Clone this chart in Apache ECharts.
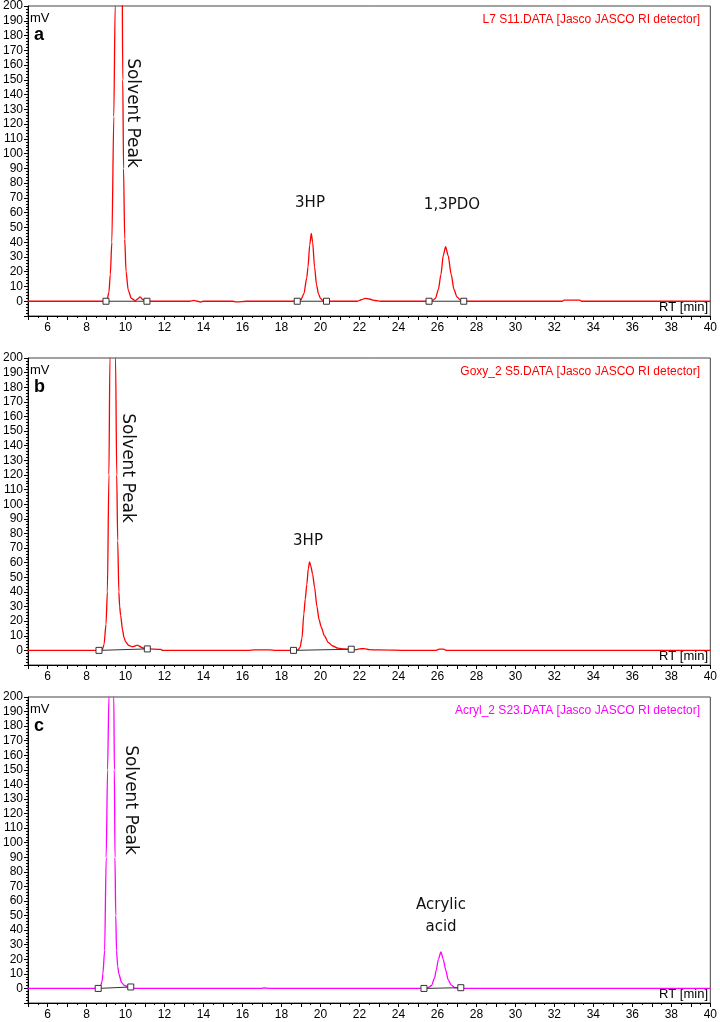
<!DOCTYPE html>
<html><head><meta charset="utf-8">
<script src="https://cdn.jsdelivr.net/npm/echarts@6/dist/echarts.min.js"></script>
<style>html,body{margin:0;padding:0;background:#fff}#c{width:720px;height:1022px}</style>
</head><body><div id="c"></div>
<script>
// ---- data (retention time [min], signal [mV]) ----
const panelLetters = ['a', 'b', 'c'];
const fileTitles = [
  'L7 S11.DATA [Jasco JASCO RI detector]',
  'Goxy_2 S5.DATA [Jasco JASCO RI detector]',
  'Acryl_2 S23.DATA [Jasco JASCO RI detector]'
];
const traceColors = ['#ff0000', '#ff0000', '#ff00ff'];

const traceA = [[5,0],[8.9,0],[9.05,0.5],[9.15,6],[9.22,18],[9.3,40],[9.4,125],[9.47,200],[9.55,290],[9.65,345],[9.75,330],[9.82,240],[9.86,150],[9.9,90],[9.96,42],[10.03,20],[10.14,7.5],[10.3,2],[10.5,0.3],[10.62,1.5],[10.75,3],[10.88,1.2],[11.0,0.2],[11.3,0],[13.3,0],[13.5,0.6],[13.7,0],[13.85,-0.5],[14.0,0],[15.5,0],[15.7,-0.4],[16.2,0],[18.8,0],[19.0,1],[19.15,5],[19.3,16],[19.36,23],[19.45,38],[19.53,46],[19.6,40],[19.7,23],[19.8,11],[19.9,5],[20.0,2],[20.12,0.5],[20.3,0],[21.9,0],[22.1,1],[22.3,2],[22.5,1.5],[22.8,0.5],[23.1,0],[25.6,0],[25.75,0.5],[25.9,2],[26.05,8],[26.18,18],[26.3,31],[26.42,37],[26.55,31],[26.71,18],[26.85,8],[27.0,3],[27.2,0.6],[27.4,0],[32.4,0],[32.5,0.7],[33.3,0.7],[33.4,0],[40,0]];

const traceB = [[5,0],[8.7,0],[8.81,0.5],[8.9,4],[9.0,18],[9.07,40],[9.15,120],[9.2,200],[9.3,300],[9.38,320],[9.45,270],[9.49,200],[9.55,120],[9.6,75],[9.66,40],[9.7,30],[9.75,24],[9.85,14],[9.92,9],[10.0,6],[10.15,3.5],[10.35,2.5],[10.5,3],[10.6,3.6],[10.7,3],[10.85,1.8],[11.1,1],[11.8,0.7],[11.9,0],[16.3,0],[16.6,0.4],[17.4,0.4],[17.7,0],[18.7,0],[18.85,0.3],[18.95,2],[19.05,8],[19.15,25],[19.22,35],[19.3,45],[19.38,56],[19.44,60.5],[19.5,58],[19.6,52],[19.7,43],[19.82,30],[19.93,21],[20.04,16],[20.2,10],[20.4,5.5],[20.63,3],[20.9,1.5],[21.2,1],[21.5,0.8],[21.8,0.5],[22.0,1],[22.25,1.2],[22.5,0.5],[23,0.3],[24.5,0],[25.9,0],[26.1,0.8],[26.3,0.8],[26.5,0],[40,0]];

const traceC = [[5,0],[8.6,0],[8.7,0.5],[8.8,5],[8.84,10],[8.93,26],[9.01,90],[9.08,150],[9.15,200],[9.22,270],[9.28,300],[9.34,270],[9.4,200],[9.43,150],[9.46,90],[9.5,50],[9.54,26],[9.6,15],[9.66,10],[9.8,4],[9.95,2],[10.2,0.8],[10.4,0],[17,0],[17.1,0.3],[17.4,0],[25.3,0],[25.5,0.3],[25.7,2],[25.85,7],[25.94,12.5],[26.05,20],[26.18,25],[26.3,20],[26.43,12.5],[26.55,6],[26.7,2.5],[26.9,0.5],[27.1,0.2],[27.3,0],[40,0]];

// integration baselines (start point, end point)
const baselinesA = [[[9.0,0],[11.1,0]], [[18.81,0],[20.31,0]], [[25.57,0],[27.35,0]]];
const baselinesB = [[[8.64,0],[11.12,1]], [[18.62,0],[21.58,0.8]]];
const baselinesC = [[[8.6,0],[10.27,1]], [[25.31,0],[27.2,0.5]]];

const xMin = 5, xMax = 40, yMin = -10, yMax = 200;

const traces = [traceA, traceB, traceC];
const baselines = [baselinesA, baselinesB, baselinesC];

// ---- layout ----
const gridTops = [6, 358, 697];
const gridHeights = [310, 307, 306];
const FONT = 'Liberation Sans, Arial, sans-serif';
const ANN = 'DejaVu Sans, sans-serif';

const grid = [], xAxis = [], yAxis = [], series = [], graphic = [];
for (let i = 0; i < 3; i++) {
  grid.push({left: 25, right: 9, top: gridTops[i], height: gridHeights[i], show: true, borderColor: '#444', borderWidth: 1, containLabel: false});
  xAxis.push({
    type: 'value', gridIndex: i, min: xMin, max: xMax, interval: 1,
    axisLine: {show: true, onZero: false, lineStyle: {color: '#000', width: 1}},
    axisTick: {show: true, length: 4, lineStyle: {color: '#000'}},
    minorTick: {show: true, splitNumber: 2, length: 2, lineStyle: {color: '#000'}},
    splitLine: {show: false},
    axisLabel: {color: '#000', fontFamily: FONT, fontSize: 12, margin: 6, showMaxLabel: true,
      formatter: v => (v % 2 === 0 ? String(v) : '')}
  });
  yAxis.push({
    type: 'value', gridIndex: i, min: yMin, max: yMax, interval: 10,
    axisLine: {show: true, onZero: false, lineStyle: {color: '#000', width: 1}},
    axisTick: {show: true, length: 4, lineStyle: {color: '#000'}},
    minorTick: {show: true, splitNumber: 5, length: 2, lineStyle: {color: '#000'}},
    splitLine: {show: false},
    axisLabel: {color: '#000', fontFamily: FONT, fontSize: 12, margin: 5,
      formatter: v => (v < 0 ? '' : String(v))}
  });
  series.push({
    type: 'line', xAxisIndex: i, yAxisIndex: i, data: traces[i], showSymbol: false,
    smooth: 0.25, smoothMonotone: 'x', clip: true,
    lineStyle: {color: traceColors[i], width: 1.3}, z: 2
  });
  baselines[i].forEach(seg => {
    series.push({
      type: 'line', xAxisIndex: i, yAxisIndex: i, data: seg, symbol: 'rect', symbolSize: 6,
      showSymbol: true, itemStyle: {color: '#fff', borderColor: '#333', borderWidth: 1},
      lineStyle: {color: '#333', width: 1}, z: 3
    });
  });
  const t = gridTops[i], b = gridTops[i] + gridHeights[i];
  graphic.push({type: 'text', x: 30, y: t + 12, style: {text: 'mV', fontFamily: FONT, fontSize: 13, fill: '#000', verticalAlign: 'middle'}});
  graphic.push({type: 'text', x: 34, y: t + 29, style: {text: panelLetters[i], fontFamily: FONT, fontSize: 18, fontWeight: 'bold', fill: '#000', verticalAlign: 'middle'}});
  graphic.push({type: 'text', x: 700, y: t + 14, style: {text: fileTitles[i], fontFamily: FONT, fontSize: 12, fill: traceColors[i], align: 'right', verticalAlign: 'middle'}});
  graphic.push({type: 'text', x: 708, y: b - 9, style: {text: 'RT [min]', fontFamily: FONT, fontSize: 13, fill: '#000', align: 'right', verticalAlign: 'middle'}});
}

// peak annotations
const annotations = [
  {text: 'Solvent Peak', x: 132, y: 113, rot: true},
  {text: '3HP', x: 310, y: 203},
  {text: '1,3PDO', x: 452, y: 205},
  {text: 'Solvent Peak', x: 127, y: 468, rot: true},
  {text: '3HP', x: 308, y: 541},
  {text: 'Solvent Peak', x: 130, y: 800, rot: true},
  {text: 'Acrylic\nacid', x: 441, y: 916}
];
annotations.forEach(a => {
  graphic.push({
    type: 'text', x: a.x, y: a.y, rotation: a.rot ? -Math.PI / 2 : 0,
    style: {text: a.text, fontFamily: ANN, fontSize: a.rot ? 17 : 15, fill: '#111',
      align: 'center', verticalAlign: 'middle', lineHeight: 22}
  });
});

const chart = echarts.init(document.getElementById('c'), null, {renderer: 'canvas'});
chart.setOption({animation: false, backgroundColor: '#fff', grid, xAxis, yAxis, series, graphic});
</script></body></html>
